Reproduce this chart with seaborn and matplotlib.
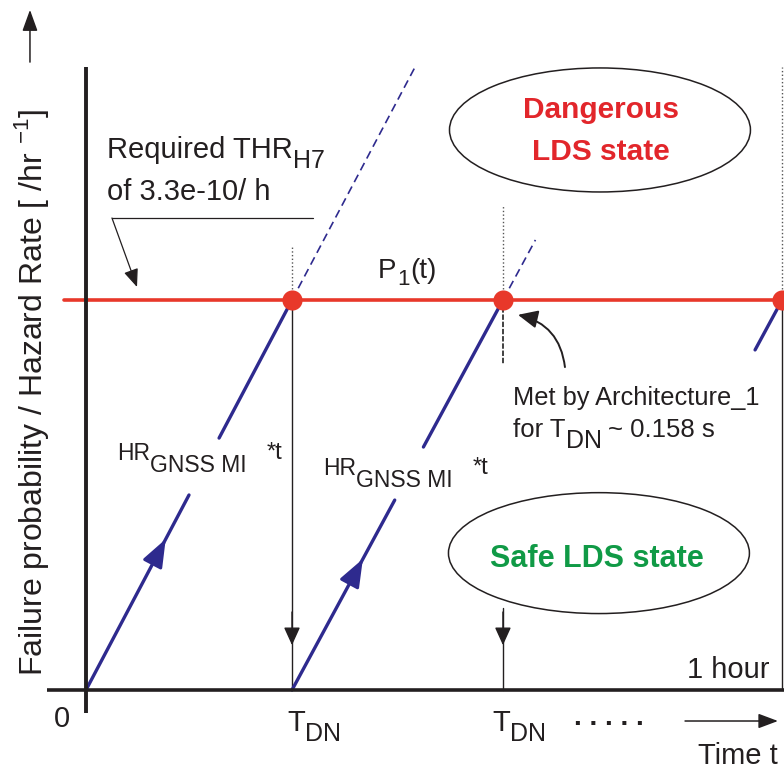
import numpy as np
import pandas as pd
import matplotlib
matplotlib.use("Agg")
import matplotlib.pyplot as plt
import seaborn as sns
from matplotlib.patches import Ellipse, FancyArrowPatch

# ---------------- data (schematic, in units of T_DN and THR) ----------------
reset_times = [0.0, 1.0, 2.024]      # successive T_DN resets
hour_end = 3.379                     # end of the 1 hour window
threshold = 1.0                      # required THR_H7 level (P1(t))
last_ramp_start = 0.872              # visible start of the last ramp
label_gaps = [(0.500, 0.646), (0.487, 0.623)]   # gaps in the ramps for labels
dash_ext_top = [1.595, 1.154]        # dashed continuation of ramps
dot_times = [1.0, 2.024, 3.379]      # where the ramps hit the threshold

BLUE = "#2e2a8e"
RED = "#e8382a"
TXT = "#231f20"

sns.set_theme(style="white")
plt.rcParams["font.family"] = ["Liberation Sans", "DejaVu Sans"]
plt.rcParams["mathtext.fontset"] = "custom"

fig = plt.figure(figsize=(7.84, 7.71), dpi=100)
fig.patch.set_facecolor("white")
ax = fig.add_axes([0, 0, 1, 1])
ax.set_xlim(-86 / 206, 698 / 206)
ax.set_ylim(-81 / 390, 690 / 390)
ax.set_axis_off()


def arrow(p0, p1, color=TXT, lw=1.0, hl=11, hw=5, rad=0.0, z=5):
    ax.add_patch(FancyArrowPatch(p0, p1, arrowstyle=f"-|>,head_length={hl},head_width={hw}",
                                 mutation_scale=1, color=color, lw=lw, shrinkA=0, shrinkB=0,
                                 connectionstyle=f"arc3,rad={rad}", zorder=z))


def rich(x, y, parts, ha="left", color=TXT, weight="normal"):
    r = fig.canvas.get_renderer()
    items, total = [], 0.0
    for s, size, dy, gap in parts:
        t = ax.annotate(s, (x, y), xycoords="data", xytext=(0, dy), textcoords="offset points",
                        fontsize=size, ha="left", va="baseline", color=color,
                        fontweight=weight)
        w = t.get_window_extent(r).width * 72 / fig.dpi
        items.append((t, dy, w + gap))
        total += w + gap
    total -= parts[-1][3]
    off = {"left": 0.0, "center": -total / 2, "right": -total}[ha]
    for t, dy, adv in items:
        t.xyann = (off, dy)
        off += adv


# ---------------- ramps (blue) ----------------
rows = []
seg = 0
for i, t0 in enumerate(reset_times[:2]):
    t1 = reset_times[i + 1]
    slope = 1.0 / (t1 - t0)
    g0, g1 = label_gaps[i]
    for ya, yb in [(0.0, g0), (g1, threshold)]:
        rows.append((t0 + ya / slope, ya, seg))
        rows.append((t0 + yb / slope, yb, seg))
        seg += 1
slope_last = 1.0 / (reset_times[2] - reset_times[1])
rows.append((hour_end - (threshold - last_ramp_start) / slope_last, last_ramp_start, seg))
rows.append((hour_end, threshold, seg))
ramps = pd.DataFrame(rows, columns=["t", "p", "seg"])
sns.lineplot(data=ramps, x="t", y="p", units="seg", estimator=None, sort=False,
             color=BLUE, lw=2.4, ax=ax, zorder=3, legend=False)

# dashed continuations
for i, top in enumerate(dash_ext_top):
    t0 = dot_times[i]
    slope = 1.0 / (reset_times[i + 1] - reset_times[i])
    ax.plot([t0, t0 + (top - threshold) / slope], [threshold, top], color=BLUE,
            lw=1.2, ls=(0, (5, 3)), zorder=3)

# arrowheads on ramps
for t_tip, y_tip, i in [(0.387, 0.387, 0), (1.344, 0.336, 1)]:
    slope = 1.0 / (reset_times[i + 1] - reset_times[i])
    arrow((t_tip - 0.06 / slope, y_tip - 0.06), (t_tip, y_tip), color=BLUE, lw=2.2, hl=17, hw=6.5)

# ---------------- verticals ----------------
ax.plot([1.0, 1.0], [threshold, 1.141], color="#555555", lw=1.0, ls=":", zorder=2)
ax.plot([1.0, 1.0], [threshold, 0.0], color=TXT, lw=1.0, zorder=2)
arrow((1.0, 0.2), (1.0, 0.115), hl=11, hw=5)
ax.plot([2.024, 2.024], [threshold, 1.244], color="#555555", lw=1.0, ls=":", zorder=2)
ax.plot([2.024, 2.024], [threshold, 0.833], color="#333333", lw=1.3, ls=(0, (3, 1)), zorder=2)
ax.plot([2.024, 2.024], [0.21, 0.0], color=TXT, lw=1.0, zorder=2)
arrow((2.024, 0.2), (2.024, 0.115), hl=11, hw=5)
ax.plot([hour_end, hour_end], [threshold, 1.597], color="#555555", lw=1.0, ls=":", zorder=2)
ax.plot([hour_end, hour_end], [0.0, threshold], color=TXT, lw=1.0, zorder=2)

# ---------------- threshold line & dots ----------------
sns.lineplot(x=[-0.107, 3.40], y=[threshold, threshold], color=RED, lw=2.6, ax=ax, zorder=4)
sns.scatterplot(x=dot_times, y=[threshold] * len(dot_times), s=210, color=RED,
                linewidth=0, ax=ax, zorder=6, legend=False)

# ---------------- axes ----------------
ax.plot([0, 0], [-0.059, 1.597], color=TXT, lw=2.8, zorder=4, solid_capstyle="butt")
ax.plot([-0.189, 3.40], [0, 0], color=TXT, lw=2.6, zorder=4, solid_capstyle="butt")
arrow((-0.272, 1.610), (-0.272, 1.744), lw=1.1, hl=13, hw=4.7)
arrow((2.908, -0.0795), (3.359, -0.0795), lw=1.1, hl=12, hw=4.5)

ax.text(-0.214, 0.764, "Failure probability / Hazard Rate [ /hr $^{\\mathregular{-1}}$]",
        rotation=90, rotation_mode="anchor", ha="center", va="baseline",
        fontsize=23, color=TXT)

# ---------------- ellipses ----------------
ax.add_patch(Ellipse((2.495, 1.436), 1.461, 0.318, fill=False, ec=TXT, lw=1.1, zorder=2))
ax.add_patch(Ellipse((2.49, 0.351), 1.461, 0.31, fill=False, ec=TXT, lw=1.1, zorder=2))
ax.text(2.50, 1.467, "Dangerous", ha="center", va="baseline", fontsize=21.5,
        fontweight="bold", color="#e2262b")
ax.text(2.50, 1.359, "LDS state", ha="center", va="baseline", fontsize=21.5,
        fontweight="bold", color="#e2262b")
ax.text(2.478, 0.315, "Safe LDS state", ha="center", va="baseline", fontsize=22,
        fontweight="bold", color="#109a46")

# ---------------- annotations ----------------
rich(0.102, 1.364, [("Required THR", 21, 0, 0.5), ("H7", 18, -7, 0)])
ax.text(0.102, 1.256, "of 3.3e-10/ h", ha="left", va="baseline", fontsize=21, color=TXT)
ax.plot([1.102, 0.126], [1.2103, 1.2103], color=TXT, lw=0.9, zorder=4)
arrow((0.126, 1.2103), (0.2476, 1.0333), lw=0.9, hl=11, hw=4.5)

rich(1.417, 1.056, [("P", 20, 0, 0.5), ("1", 16, -5, 0.8), ("(t)", 20, 0, 0)])

for (hx, hy) in [(0.150, 0.590), (1.150, 0.551)]:
    rich(hx, hy, [("HR", 16.5, 0, 0.3), ("GNSS MI", 16.5, -8.6, 14), ("*t", 17, 1, 0)])

ax.text(2.073, 0.731, "Met by Architecture_1", ha="left", va="baseline", fontsize=18.3,
        color=TXT)
rich(2.073, 0.649, [("for T", 18.5, 0, 0.3), ("DN", 18, -8, 4), ("~ 0.158 s", 18.5, 0, 0)])
arrow((2.325, 0.828), (2.097, 0.962), lw=1.4, hl=12, hw=5.5, rad=0.35)

ax.text(-0.1165, -0.095, "0", ha="center", va="baseline", fontsize=21, color=TXT)
for tx in [0.976, 1.971]:
    rich(tx, -0.105, [("T", 21, 0, 0.3), ("DN", 18, -7, 0)])
ax.text(2.539, -0.0897, ". . . . .", ha="center", va="baseline", fontsize=20,
        fontweight="bold", color=TXT)
ax.text(3.320, 0.031, "1 hour", ha="right", va="baseline", fontsize=21, color=TXT)
ax.text(3.359, -0.190, "Time t", ha="right", va="baseline", fontsize=21, color=TXT)

fig.savefig("out.png", dpi=100, facecolor="white")
